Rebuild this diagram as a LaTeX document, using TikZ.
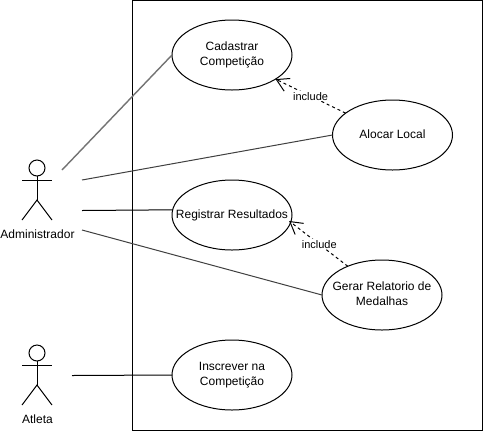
\documentclass[tikz,border=0pt]{standalone}
\usepackage{fontspec}
\setmainfont{Liberation Sans}
\usetikzlibrary{shapes.geometric,arrows.meta}
\newcommand{\uctext}[1]{\makebox[0pt][c]{\raisebox{-1pt}{\begin{tabular}{@{}c@{}}#1\end{tabular}}}}
\tikzset{
  every node/.style={font=\fontsize{12}{15}\selectfont,text=black},
  usecase/.style={draw=black,line width=1pt,ellipse,inner sep=0pt,outer sep=0pt,fill=white,minimum width=120pt,minimum height=70pt},
  head/.style={draw=black,line width=1pt,circle,inner sep=0pt,outer sep=0pt,minimum size=16pt},
  limb/.style={draw=black,line width=1pt},
  assoc/.style={draw=#1,line width=1pt},
  assoc/.default={black!75},
  incl/.style={draw=black,line width=1pt,dash pattern=on 3pt off 3pt,-{Straight Barb[length=12pt,width=14pt,line width=1pt]}},
  incllabel/.style={fill=white,inner sep=1pt,font=\fontsize{11}{13}\selectfont},
}
\renewcommand{\arraystretch}{1}
\setlength{\tabcolsep}{0pt}
\begin{document}
\begin{tikzpicture}[x=1pt,y=-1pt]
\useasboundingbox (0,0) rectangle (484,432);
\fill[white] (0,0) rectangle (484,432);
\draw[line width=1pt] (132.5,0.5) rectangle (482.5,430.5);

\node[usecase] (cad) at (232,55) {\uctext{Cadastrar\\Competição}};
\node[usecase] (alo) at (392.5,135) {\uctext{Alocar Local}};
\node[usecase] (reg) at (232,215) {\uctext{Registrar Resultados}};
\node[usecase] (ger) at (382,295) {\uctext{Gerar Relatorio de\\Medalhas}};
\node[usecase] (ins) at (232,375) {\uctext{Inscrever na\\Competição}};

% Administrador
\node[head] (h1) at (37,168) {};
\coordinate (a1l) at (22,180.5);
\coordinate (a1r) at (52,180.5);
\coordinate (a1b) at (37,200);
\coordinate (a1fl) at (22,220);
\coordinate (a1fr) at (52,220);
\draw[limb] (h1) -- (a1b);
\draw[limb] (a1l) -- (a1r);
\draw[limb] (a1fl) -- (a1b) -- (a1fr);
\node (adm) at (37.5,234) {Administrador};

% Atleta
\node[head] (h2) at (37,353) {};
\coordinate (a2l) at (22,365.5);
\coordinate (a2r) at (52,365.5);
\coordinate (a2b) at (37,385);
\coordinate (a2fl) at (22,405);
\coordinate (a2fr) at (52,405);
\draw[limb] (h2) -- (a2b);
\draw[limb] (a2l) -- (a2r);
\draw[limb] (a2fl) -- (a2b) -- (a2fr);
\node (atl) at (37.5,419) {Atleta};

% Associations
\coordinate (s1) at (62,170);
\coordinate (s2) at (82,180);
\coordinate (s3) at (82,210.5);
\coordinate (s4) at (82,230);
\coordinate (s5) at (72,375.5);
\draw[assoc={black!55},line width=1.4pt] (s1) -- (cad.west);
\draw[assoc] (s2) -- (alo.west);
\draw[assoc=black] (s3) -- (reg.175);
\draw[assoc] (s4) -- (ger.west);
\draw[assoc=black] (s5) -- (ins.west);

% Includes
\draw[incl] (alo.155) -- (cad.-29.6) node[incllabel,pos=0.5] (l1) {include};
\draw[incl,shorten >=-2pt] (ger.140.4) -- (reg.-7.4) node[incllabel,pos=0.5] (l2) {include};
\end{tikzpicture}
\end{document}
